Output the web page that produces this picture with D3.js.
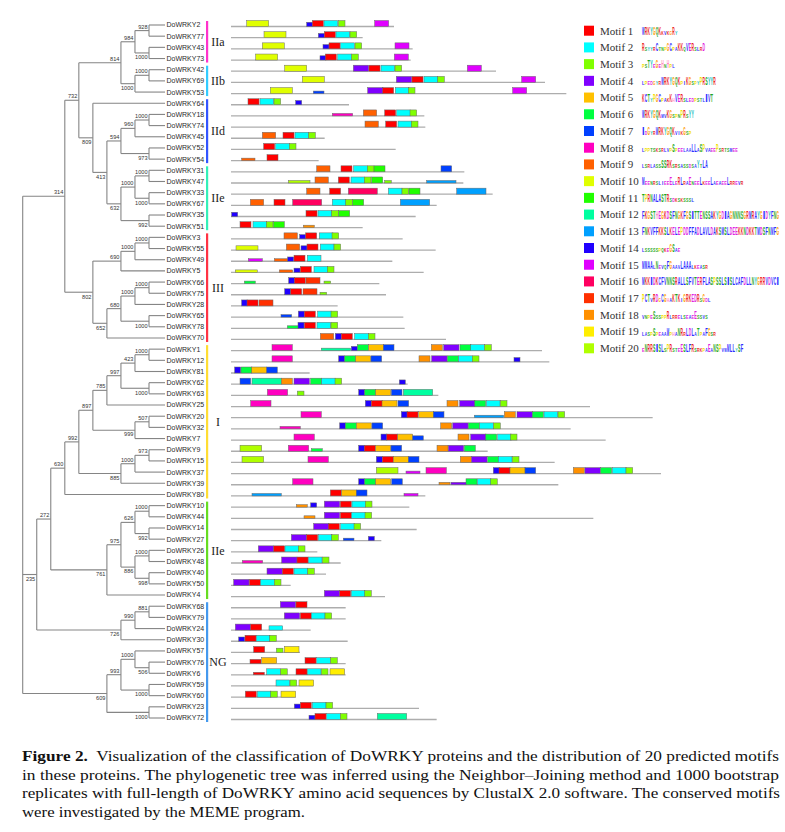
<!DOCTYPE html>
<html>
<head>
<meta charset="utf-8">
<script src="https://cdn.jsdelivr.net/npm/d3@7"></script>
<style>
  body { margin: 0; background: #fff; }
  text { white-space: pre; }
</style>
</head>
<body>
<svg id="chart"></svg>
<script>
// Neighbor-Joining tree (bootstrap values as internal labels), built clade by clade
const cladeIIab = '(((DoWRKY2,DoWRKY77)928,(DoWRKY43,DoWRKY73)1000)984,((DoWRKY42,DoWRKY69)1000,DoWRKY53)1000)814';
const cladeIIde = '(DoWRKY64,((((DoWRKY18,DoWRKY74)1000,DoWRKY45)960,(DoWRKY52,DoWRKY54)973)594,' +
  '(((DoWRKY31,DoWRKY47)1000,(DoWRKY33,DoWRKY67)1000)1000,(DoWRKY35,DoWRKY51)992)632)413)809';
const cladeIII = '((((DoWRKY3,DoWRKY55)1000,DoWRKY49)1000,DoWRKY5)690,' +
  '((((DoWRKY66,DoWRKY75)1000,DoWRKY28)1000,(DoWRKY65,DoWRKY78)1000)680,DoWRKY70)652)802';
const cladeI = '((((((DoWRKY1,DoWRKY12)1000,DoWRKY81)423,(DoWRKY62,DoWRKY63)1000)997,DoWRKY25)785,' +
  '((DoWRKY20,DoWRKY32)507,DoWRKY7)999)897,(((DoWRKY9,DoWRKY15)973,DoWRKY37)1000,DoWRKY39)885)992';
const cladeIIc = '((((DoWRKY10,DoWRKY44)1000,(DoWRKY14,DoWRKY27)992)626,' +
  '((DoWRKY26,DoWRKY48)1000,(DoWRKY40,DoWRKY50)998)886)975,DoWRKY4)761';
const cladeNG1 = '(((DoWRKY68,DoWRKY79)881,DoWRKY24)990,DoWRKY30)726';
const cladeNG2 = '(((DoWRKY57,(DoWRKY76,DoWRKY6)506)1000,(DoWRKY59,DoWRKY60)1000)993,(DoWRKY23,DoWRKY72)1000)609';

const newick = `(((${cladeIIab},${cladeIIde})732,${cladeIII})314,` +
  `(((${cladeI},DoWRKY80)630,${cladeIIc})272,${cladeNG1})235,${cladeNG2});`;

const groups = [
  { name: 'IIa', first: 'DoWRKY2', last: 'DoWRKY73', color: '#ff33cc' },
  { name: 'IIb', first: 'DoWRKY42', last: 'DoWRKY53', color: '#33ccff' },
  { name: 'IId', first: 'DoWRKY64', last: 'DoWRKY54', color: '#3355ff' },
  { name: 'IIe', first: 'DoWRKY31', last: 'DoWRKY51', color: '#33f0b8' },
  { name: 'III', first: 'DoWRKY3', last: 'DoWRKY70', color: '#ff3344' },
  { name: 'I', first: 'DoWRKY1', last: 'DoWRKY80', color: '#ffdd33' },
  { name: 'IIe', first: 'DoWRKY10', last: 'DoWRKY4', color: '#66dd22' },
  { name: 'NG', first: 'DoWRKY68', last: 'DoWRKY72', color: '#4499ee' },
];

// MEME motifs
const motifColors = ['#ff0000', '#00ffff', '#80ff00', '#8000ff', '#ffc000', '#00ff40', '#0040ff',
  '#ff00c0', '#ff6000', '#e0ff00', '#20ff00', '#00ffa0', '#00a0ff', '#2000ff',
  '#e000ff', '#ff0060', '#ff3000', '#ff9000', '#ffee00', '#b0ff00'];
const motifWidth = [33, 41, 20, 46, 45, 33, 32, 61, 40, 66, 33, 88, 88, 18, 42, 87, 42, 33, 44, 65];
// logo consensus: upper case = high information, lower case = low
const motifLogo = [
  'WRKYGQKkvkgRy',
  'RsyyrCtnpGCpaKKqVERslrD',
  'psTYeGeHnHpl',
  'lpedgyrWRKYGQKpiKGspyPRSYYR',
  'KCTyPGCpakKhVERsledpstlIVT',
  'WRKYGQKmvKGspnPRsYY',
  'IdGyrWRKYGQKvikGsp',
  'lpptsksrlvpSpeelaaLLaSPvaeePsrtsmee',
  'lsrlassSSRKsrsassdsaYtLA',
  'MeenrslieeEleRLraEneeLkeeLaeaeeLrrevr',
  'TPRNALASTRsdksksssl',
  'FKGSTHEGKDSFNGKFGSITTENSSAKYGDIAGNNNSGRMRAYGIDYFNG',
  'FNKVFFKKSLKELEPDDFFADLAVLDAKSMSLDEEKKNDKKTMDSFNMFG',
  'lssssspqkeGSae',
  'MMAAlNevqFGaavLAAAlkeasr',
  'MKKIDKCFVNNSRALLSFVTERFLASPSSLSISLCAFDLLNYGRRVDVCI',
  'PCTvRDgCGhaKTKiGRKEDRsGdl',
  'vnpeSssppRlrrelseaeEssvs',
  'laspSpeaaWphaNRrLDLaTpaFGsr',
  'eNRRSISLsPRsteESLFRsrkpaEaNSPvwMLLySF',
];

const proteinLength = {
  DoWRKY2: 489, DoWRKY77: 395, DoWRKY43: 545, DoWRKY73: 539, DoWRKY42: 795, DoWRKY69: 942, DoWRKY53: 1006,
  DoWRKY64: 354, DoWRKY18: 580, DoWRKY74: 583, DoWRKY45: 281, DoWRKY52: 494, DoWRKY54: 263,
  DoWRKY31: 700, DoWRKY47: 697, DoWRKY33: 785, DoWRKY67: 617, DoWRKY35: 554, DoWRKY51: 395,
  DoWRKY3: 515, DoWRKY55: 614, DoWRKY49: 484, DoWRKY5: 578, DoWRKY66: 445, DoWRKY75: 465, DoWRKY28: 320,
  DoWRKY65: 517, DoWRKY78: 521, DoWRKY70: 645,
  DoWRKY1: 933, DoWRKY12: 955, DoWRKY81: 236, DoWRKY62: 530, DoWRKY63: 622, DoWRKY25: 1077, DoWRKY20: 1265,
  DoWRKY32: 1019, DoWRKY7: 1124, DoWRKY9: 770, DoWRKY15: 971, DoWRKY37: 1290, DoWRKY39: 982, DoWRKY80: 583,
  DoWRKY10: 535, DoWRKY44: 1087, DoWRKY14: 557, DoWRKY27: 451, DoWRKY26: 259, DoWRKY48: 329, DoWRKY40: 285,
  DoWRKY50: 179, DoWRKY4: 462,
  DoWRKY68: 344, DoWRKY79: 344, DoWRKY24: 239, DoWRKY30: 350, DoWRKY57: 207, DoWRKY76: 344, DoWRKY6: 344,
  DoWRKY59: 247, DoWRKY60: 195, DoWRKY23: 564, DoWRKY72: 617,
};

// [motif, start (aa), score 1-3 (3 if omitted)]
const motifSites = {
  DoWRKY2: [[10, 47], [14, 227, 2], [1, 244], [2, 279], [3, 322], [15, 431]],
  DoWRKY77: [[10, 99], [14, 262, 2], [1, 280], [2, 315], [3, 357]],
  DoWRKY43: [[10, 94], [14, 276, 2], [1, 294], [2, 329], [3, 372], [15, 492]],
  DoWRKY73: [[10, 74], [14, 267, 2], [1, 283], [2, 320], [3, 362], [15, 490]],
  DoWRKY42: [[10, 161], [4, 367], [1, 414], [2, 450], [3, 492], [15, 709]],
  DoWRKY69: [[10, 214], [4, 496], [1, 543], [2, 579], [3, 620], [15, 872]],
  DoWRKY53: [[10, 118], [7, 247, 1], [4, 410], [1, 455], [2, 493], [3, 532], [15, 845]],
  DoWRKY64: [[1, 51], [2, 87], [3, 129], [14, 194, 2]],
  DoWRKY18: [[8, 304, 1], [9, 397], [1, 461], [2, 497], [3, 537]],
  DoWRKY74: [[9, 402], [1, 464], [2, 501], [3, 541]],
  DoWRKY45: [[9, 94], [1, 156], [2, 192], [3, 233]],
  DoWRKY52: [[1, 98], [2, 134], [3, 175]],
  DoWRKY54: [[9, 32, 1], [1, 108]],
  DoWRKY31: [[9, 257], [1, 330], [2, 368], [3, 409], [11, 429], [7, 630]],
  DoWRKY47: [[20, 172, 1], [9, 252], [1, 322], [2, 360], [3, 400], [11, 422], [3, 461, 1], [13, 587, 1]],
  DoWRKY33: [[9, 227], [1, 296], [16, 352], [2, 472], [3, 513], [11, 534], [13, 677]],
  DoWRKY67: [[9, 58], [1, 129], [16, 185], [2, 304], [3, 344], [11, 365], [13, 508]],
  DoWRKY35: [[14, 2, 2], [1, 225], [2, 261], [3, 302], [11, 323]],
  DoWRKY51: [[1, 27], [2, 66], [3, 106], [11, 127], [18, 217, 1]],
  DoWRKY3: [[9, 159], [14, 206, 2], [1, 224], [2, 265], [3, 303]],
  DoWRKY55: [[10, 15, 2], [9, 166], [14, 210, 2], [1, 228], [2, 268], [3, 309]],
  DoWRKY49: [[15, 52, 1], [9, 130, 1], [14, 170, 2], [1, 189], [2, 229]],
  DoWRKY5: [[10, 13, 1], [9, 145, 1], [14, 189, 2], [1, 208], [2, 249], [3, 289]],
  DoWRKY66: [[6, 40, 1], [14, 173], [1, 190], [17, 225], [3, 279, 1]],
  DoWRKY75: [[14, 161], [1, 179], [17, 216], [3, 267, 1]],
  DoWRKY28: [[14, 32], [1, 48], [17, 84]],
  DoWRKY65: [[7, 150, 1], [14, 202], [1, 220], [2, 260], [3, 300]],
  DoWRKY78: [[6, 169, 1], [14, 201], [1, 220], [2, 258], [3, 300]],
  DoWRKY70: [[9, 268], [14, 313], [1, 331], [2, 371], [3, 412]],
  DoWRKY1: [[8, 123], [12, 271, 1], [14, 361, 2], [6, 379], [5, 413], [7, 457], [18, 601], [4, 638], [6, 687], [2, 719], [3, 761]],
  DoWRKY12: [[8, 123], [14, 323], [6, 341], [5, 374], [7, 420], [18, 564], [4, 602], [6, 649], [2, 683], [3, 724], [14, 849, 2]],
  DoWRKY81: [[14, 11], [6, 30], [5, 62], [7, 107]],
  DoWRKY62: [[7, 27], [12, 63], [18, 151], [4, 189], [6, 239], [2, 272], [3, 312], [14, 505, 2]],
  DoWRKY63: [[8, 109], [3, 199, 2], [14, 383], [6, 401], [5, 434], [7, 481], [12, 517]],
  DoWRKY25: [[8, 59], [14, 403], [1, 421], [5, 453], [7, 501], [18, 648], [4, 686], [6, 731], [2, 766], [3, 808]],
  DoWRKY20: [[8, 210], [14, 511], [1, 528], [5, 563], [7, 607], [13, 730, 1], [18, 820], [4, 858], [6, 904], [2, 939], [3, 981]],
  DoWRKY32: [[8, 147, 1], [14, 326], [6, 343], [5, 376], [7, 423], [18, 629], [4, 665], [6, 712], [2, 746], [3, 788]],
  DoWRKY7: [[8, 189], [14, 450], [1, 467], [5, 500], [7, 545, 2], [18, 681], [4, 719], [6, 764], [2, 800], [3, 838]],
  DoWRKY9: [[20, 27], [8, 172], [6, 241, 1], [14, 383], [1, 400], [5, 434], [7, 480], [18, 618], [4, 652], [6, 700]],
  DoWRKY15: [[20, 33], [8, 231], [14, 436], [1, 454], [5, 487], [7, 532], [18, 688], [4, 722], [6, 770], [2, 802], [3, 844]],
  DoWRKY37: [[20, 436], [15, 525, 1], [8, 585], [14, 787], [1, 804], [5, 837], [7, 882], [18, 1027], [4, 1062], [6, 1109], [2, 1144], [3, 1185]],
  DoWRKY39: [[8, 185], [14, 383], [6, 401], [5, 434], [7, 482], [18, 624, 1], [4, 660, 1], [6, 705], [2, 739], [3, 779]],
  DoWRKY80: [[13, 63, 1], [1, 298], [5, 332], [7, 376], [15, 519, 1]],
  DoWRKY10: [[18, 196, 1], [14, 239, 2], [4, 280], [1, 328], [2, 363], [3, 403]],
  DoWRKY44: [[18, 219, 1], [4, 280], [1, 328], [2, 362], [3, 402]],
  DoWRKY14: [[4, 248], [1, 292], [2, 329], [3, 369]],
  DoWRKY27: [[4, 181], [1, 227], [2, 262], [3, 302], [7, 337, 1], [14, 412, 2]],
  DoWRKY26: [[4, 82], [1, 128], [2, 162], [3, 202]],
  DoWRKY48: [[8, 34, 1], [4, 152], [1, 198], [2, 232], [3, 274]],
  DoWRKY40: [[4, 108], [1, 154], [2, 189], [3, 230]],
  DoWRKY50: [[4, 8], [1, 55], [2, 89], [3, 130]],
  DoWRKY4: [[4, 280], [1, 326], [2, 361], [3, 401]],
  DoWRKY68: [[4, 148], [1, 195]],
  DoWRKY79: [[4, 160], [1, 208], [2, 241], [3, 282]],
  DoWRKY24: [[4, 13], [1, 59], [2, 114, 2]],
  DoWRKY30: [[14, 23, 2], [1, 42], [2, 76], [3, 116]],
  DoWRKY57: [[1, 68], [3, 136, 2], [19, 160]],
  DoWRKY76: [[1, 57, 2], [5, 92], [1, 222], [2, 257], [3, 299]],
  DoWRKY6: [[1, 67, 1], [2, 107], [3, 149], [1, 195], [2, 229], [3, 271], [19, 297]],
  DoWRKY59: [[2, 135], [3, 177], [19, 204]],
  DoWRKY60: [[1, 43], [2, 79], [3, 119], [19, 150]],
  DoWRKY23: [[14, 190, 2], [1, 208], [2, 244], [3, 285]],
  DoWRKY72: [[14, 234, 2], [1, 252], [2, 287], [3, 328], [12, 439]],
};

const captionLines = [
  ['Figure 2.', '  Visualization of the classification of DoWRKY proteins and the distribution of 20 predicted motifs'],
  ['', 'in these proteins. The phylogenetic tree was inferred using the Neighbor\u2013Joining method and 1000 bootstrap'],
  ['', 'replicates with full-length of DoWRKY amino acid sequences by ClustalX 2.0 software. The conserved motifs'],
  ['', 'were investigated by the MEME program.'],
];

function parseNewick(s) {
  let i = 0;
  function readNode() {
    const node = {};
    if (s[i] === '(') {
      i += 1;
      node.children = [readNode()];
      while (s[i] === ',') {
        i += 1;
        node.children.push(readNode());
      }
      i += 1;
    }
    let label = '';
    while (i < s.length && !',();'.includes(s[i])) label += s[i++];
    node.name = label;
    return node;
  }
  return readNode();
}

const W = 785;
const H = 832;
const sans = "'Liberation Sans', Arial, sans-serif";
const serif = "'Liberation Serif', 'Times New Roman', serif";

const svg = d3.select('#chart').attr('width', W).attr('height', H);

const root = d3.hierarchy(parseNewick(newick));
const leafNames = root.leaves().map((d) => d.data.name);

const y = d3.scalePoint().domain(leafNames).range([25, 718]);
const xTree = d3.scaleLinear().domain([10, 1]).range([22.7, 149]);
const leafX = 165;
const nodeX = (d) => (d.children ? xTree(d.height) : leafX);

root.eachAfter((d) => {
  d.py = d.children
    ? (d.children[0].py + d.children[d.children.length - 1].py) / 2
    : y(d.data.name);
});

// tree branches
const tree = svg.append('g').attr('fill', 'none').attr('stroke', '#858585').attr('stroke-width', 1.1);
root.descendants().filter((d) => d.children).forEach((d) => {
  const x0 = nodeX(d);
  const kids = d.children;
  tree.append('path').attr('d', `M${x0},${kids[0].py}V${kids[kids.length - 1].py}`);
  kids.forEach((c) => {
    tree.append('path').attr('d', `M${x0},${c.py}H${nodeX(c)}`);
  });
});

// bootstrap values
svg.append('g')
  .selectAll('text')
  .data(root.descendants().filter((d) => d.children && d.parent))
  .join('text')
  .attr('x', (d) => nodeX(d) - 1.5)
  .attr('y', (d) => (d.parent.children[0] === d ? d.py - 2 : d.py + 6.3))
  .attr('text-anchor', 'end')
  .attr('font-family', sans)
  .attr('font-size', 5.6)
  .attr('fill', '#333')
  .text((d) => d.data.name);

// leaf names
svg.append('g')
  .selectAll('text')
  .data(root.leaves())
  .join('text')
  .attr('x', leafX + 1.5)
  .attr('y', (d) => d.py)
  .attr('dy', '0.35em')
  .attr('font-family', sans)
  .attr('font-size', 7)
  .attr('fill', '#2a2a2a')
  .text((d) => d.data.name);

// group bars
const gGroups = svg.append('g');
groups.forEach((g) => {
  const y0 = y(g.first) - 4;
  const y1 = y(g.last) + 4;
  gGroups.append('rect')
    .attr('x', 206)
    .attr('y', y0)
    .attr('width', 2.2)
    .attr('height', y1 - y0)
    .attr('fill', g.color);
  gGroups.append('text')
    .attr('x', 218)
    .attr('y', (y0 + y1) / 2)
    .attr('dy', '0.35em')
    .attr('text-anchor', 'middle')
    .attr('font-family', serif)
    .attr('font-size', 12)
    .attr('fill', '#222')
    .text(g.name);
});

// motif block diagram
const xAA = d3.scaleLinear().domain([0, 1290]).range([231, 661]);
const boxH = d3.scaleLinear().domain([1, 3]).range([2.5, 6]);

const gMotif = svg.append('g');
leafNames.forEach((name) => {
  const ly = y(name) + 1.5;
  gMotif.append('line')
    .attr('x1', xAA(0))
    .attr('x2', xAA(proteinLength[name]))
    .attr('y1', ly)
    .attr('y2', ly)
    .attr('stroke', '#adadad')
    .attr('stroke-width', 1.3);
  gMotif.selectAll(null)
    .data(motifSites[name])
    .join('rect')
    .attr('x', (s) => xAA(s[1]))
    .attr('y', (s) => ly - boxH(s[2] || 3))
    .attr('width', (s) => xAA(s[1] + motifWidth[s[0] - 1]) - xAA(s[1]))
    .attr('height', (s) => boxH(s[2] || 3))
    .attr('fill', (s) => motifColors[s[0] - 1])
    .attr('stroke', '#6a6a6a')
    .attr('stroke-width', 0.5);
});

// legend with logos
const aaColor = {
  A: '#2a2aff', C: '#2a2aff', F: '#2a2aff', I: '#2a2aff', L: '#2a2aff', V: '#2a2aff', W: '#2a2aff', M: '#2a2aff',
  N: '#1fa81f', Q: '#1fa81f', S: '#1fa81f', T: '#1fa81f',
  D: '#e020e0', E: '#e020e0', K: '#ee2020', R: '#ee2020',
  H: '#ff8fc0', G: '#ff9a00', P: '#f2e000', Y: '#20c0c0',
};
const legY = d3.scaleLinear().domain([1, 20]).range([30.7, 348.3]);
const letterPitch = 2.74;
const letterFit = 2.5;
const gLegend = svg.append('g');
motifColors.forEach((c, i) => {
  const ym = legY(i + 1);
  gLegend.append('rect')
    .attr('x', 584)
    .attr('y', ym - 5)
    .attr('width', 10)
    .attr('height', 10)
    .attr('fill', c);
  gLegend.append('text')
    .attr('x', 600)
    .attr('y', ym)
    .attr('dy', '0.35em')
    .attr('font-family', serif)
    .attr('font-size', 11)
    .attr('fill', '#333')
    .text(`Motif ${i + 1}`);
  // each logo column squeezed horizontally to its slot
  motifLogo[i].split('').forEach((ch, j) => {
    const big = ch === ch.toUpperCase();
    const t = gLegend.append('text')
      .attr('font-family', sans)
      .attr('font-weight', 'bold')
      .attr('font-size', big ? 10.5 : 4.5)
      .attr('fill', aaColor[ch.toUpperCase()] || '#888')
      .text(ch.toUpperCase());
    const len = t.node().getComputedTextLength() || 1;
    const k = Math.min(1, letterFit / len);
    const x0 = 642 + j * letterPitch + (letterPitch - len * k) / 2;
    t.attr('transform', `translate(${x0},${ym + 4}) scale(${k},1)`);
  });
});

// caption
const captionWidth = [757, 757, 758, 283];
captionLines.forEach((line, i) => {
  const t = svg.append('text')
    .attr('x', 22)
    .attr('y', 761 + i * 18.5)
    .attr('font-family', serif)
    .attr('font-size', 15)
    .attr('fill', '#111')
    .attr('textLength', captionWidth[i])
    .attr('lengthAdjust', 'spacingAndGlyphs');
  if (line[0]) t.append('tspan').attr('font-weight', 'bold').text(line[0]);
  t.append('tspan').text(line[1]);
});
</script>
</body>
</html>
